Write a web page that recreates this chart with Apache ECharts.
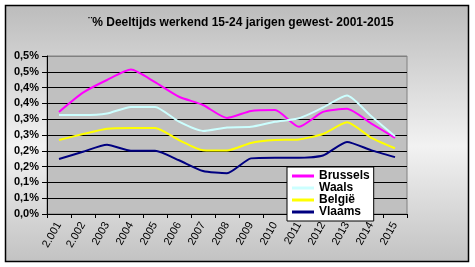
<!DOCTYPE html>
<html>
<head>
<meta charset="utf-8">
<script src="https://cdn.jsdelivr.net/npm/echarts@6/dist/echarts.min.js"></script>
<style>
html,body{margin:0;padding:0;background:#fff;}
#c{width:475px;height:267px;}
</style>
</head>
<body>
<div id="c"></div>
<script>
var titleText = '¨% Deeltijds werkend 15-24 jarigen gewest- 2001-2015';
var years = ['2.001','2.002','2003','2004','2005','2006','2007','2008','2009','2010','2011','2012','2013','2014','2015'];
var seriesNames = ['Brussels','Waals','België','Vlaams'];
var brussels = [0.323, 0.384, 0.424, 0.457, 0.417, 0.371, 0.345, 0.304, 0.326, 0.329, 0.276, 0.323, 0.333, 0.287, 0.241];
var waals    = [0.313, 0.313, 0.318, 0.339, 0.339, 0.292, 0.263, 0.274, 0.276, 0.292, 0.303, 0.337, 0.375, 0.310, 0.246];
var belgie   = [0.234, 0.253, 0.270, 0.272, 0.272, 0.234, 0.202, 0.201, 0.225, 0.234, 0.236, 0.253, 0.290, 0.242, 0.208];
var vlaams   = [0.174, 0.197, 0.219, 0.200, 0.200, 0.170, 0.136, 0.129, 0.176, 0.178, 0.178, 0.185, 0.228, 0.202, 0.180];
var colors = ['#ff00ff','#ccffff','#ffff00','#000080'];

var FONT = 'Arial, "Liberation Sans", sans-serif';
var chart = echarts.init(document.getElementById('c'), null, {renderer:'canvas'});
var dataSets = [brussels, waals, belgie, vlaams];
var gridColors = [];
for (var i = 0; i < 10; i++) gridColors.push('#000000');
gridColors.push('#808080');

chart.setOption({
  animation: false,
  backgroundColor: '#ffffff',
  graphic: [{
    type: 'rect', z: -10, silent: true,
    shape: {x: 5.5, y: 5.5, width: 463, height: 256},
    style: {
      fill: new echarts.graphic.LinearGradient(0, 0, 0, 1, [
        {offset: 0, color: '#bcbcbc'},
        {offset: 0.55, color: '#f2f2f2'},
        {offset: 1, color: '#c2c2c2'}
      ]),
      stroke: '#000000', lineWidth: 1.5
    }
  }],
  title: {
    text: titleText,
    left: 236, top: 12, textAlign: 'center',
    textStyle: {fontFamily: FONT, fontSize: 12, fontWeight: 'bold', color: '#000'}
  },
  legend: {
    orient: 'vertical',
    left: 287, top: 167,
    backgroundColor: '#ffffff',
    borderColor: '#000000', borderWidth: 1,
    padding: [3, 4, 3, 5],
    itemGap: 0,
    itemWidth: 22, itemHeight: 3,
    icon: 'rect',
    data: seriesNames,
    textStyle: {fontFamily: FONT, fontSize: 12, fontWeight: 'bold', color: '#000', lineHeight: 11}
  },
  grid: {
    left: 47, top: 56, width: 360, height: 158,
    show: true, backgroundColor: '#c0c0c0', borderColor: '#808080', borderWidth: 1,
    containLabel: false
  },
  xAxis: {
    type: 'category',
    data: years,
    boundaryGap: true,
    axisLine: {lineStyle: {color: '#000', width: 1}},
    axisTick: {show: true, length: 4, interval: 0, lineStyle: {color: '#000'}},
    axisLabel: {interval: 0, rotate: 60, margin: 9, fontFamily: FONT, fontSize: 11, fontWeight: 'normal', color: '#000'},
    splitLine: {show: false}
  },
  yAxis: {
    type: 'value',
    min: 0, max: 0.5, interval: 0.05,
    axisLine: {show: true, lineStyle: {color: '#000', width: 1}},
    axisTick: {show: true, length: 5, lineStyle: {color: '#000'}},
    axisLabel: {
      margin: 8, fontFamily: FONT, fontSize: 11, fontWeight: 'bold', color: '#000',
      formatter: function (v) {
        var r = Math.round(v * 10 + 1e-9) / 10;
        return r.toFixed(1).replace('.', ',') + '%';
      }
    },
    splitLine: {show: true, lineStyle: {color: gridColors, width: 1}}
  },
  series: seriesNames.map(function (n, i) {
    return {
      name: n, type: 'line', data: dataSets[i],
      smooth: 0.2, showSymbol: false, symbol: 'none',
      color: colors[i],
      lineStyle: {color: colors[i], width: 2},
      z: 3 + i
    };
  })
});
</script>
</body>
</html>
